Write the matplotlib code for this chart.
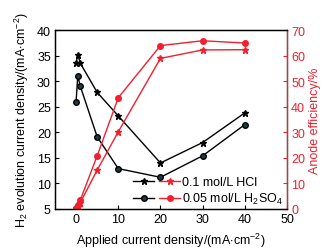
import matplotlib.pyplot as plt
from matplotlib.legend_handler import HandlerTuple
from matplotlib.lines import Line2D

plt.rcParams['font.family'] = ['Liberation Sans', 'DejaVu Sans']
plt.rcParams['mathtext.fontset'] = 'custom'
plt.rcParams['mathtext.rm'] = 'Liberation Sans'

# Applied current density (mA/cm2)
current = [0, 0.4, 1, 5, 10, 20, 30, 40]

# H2 evolution current density (left axis)
h2_hcl = [33.5, 35.2, 33.5, 27.8, 23.2, 14.0, 18.0, 23.8]
h2_h2so4 = [26.0, 31.1, 29.0, 19.1, 12.9, 11.2, 15.4, 21.5]

# Anode efficiency % (right axis)
eff_hcl = [0.3, 1.0, 2.5, 15.2, 30.2, 58.9, 62.2, 62.3]
eff_h2so4 = [0.5, 1.5, 3.5, 20.8, 43.5, 63.9, 65.8, 64.9]

red = '#f0202e'
fs = 9

fig = plt.figure(figsize=(3.34, 2.53), dpi=100)
ax = fig.add_axes([55 / 334, 43 / 253, 232 / 334, 179 / 253])
ax2 = ax.twinx()

ax.plot(current, h2_hcl, color='black', marker='*', ms=5, lw=1)
ax.plot(current, h2_h2so4, color='black', marker='o', ms=4, lw=1,
        markerfacecolor='#1d3a40')
ax2.plot(current, eff_hcl, color=red, marker='*', ms=5, lw=1)
ax2.plot(current, eff_h2so4, color=red, marker='o', ms=4, lw=1)

ax.set_xlim(-5, 50)
ax.set_ylim(5, 40)
ax2.set_ylim(0, 70)
ax.set_xticks([0, 10, 20, 30, 40, 50])
ax.set_yticks(range(5, 41, 5))
ax2.set_yticks(range(0, 71, 10))

ax.tick_params(direction='in', labelsize=fs, length=3, pad=3)
ax2.tick_params(direction='in', labelsize=fs, length=3, pad=3,
                colors=red)
ax2.spines['right'].set_color(red)
for s in ['left', 'right', 'top', 'bottom']:
    ax.spines[s].set_linewidth(0.9)
    ax2.spines[s].set_linewidth(0.9)

ax.set_xlabel('Applied current density/(mA$\\cdot$cm$^{-2}$)', fontsize=fs,
              labelpad=4)
ax.set_ylabel('H$_2$ evolution current density/(mA$\\cdot$cm$^{-2}$)',
              fontsize=fs, labelpad=4)
ax2.set_ylabel('Anode efficiency/%', fontsize=fs, color=red, labelpad=3)

# legend: black + red handle for each electrolyte
h1 = (Line2D([], [], color='black', marker='*', ms=5, lw=1),
      Line2D([], [], color=red, marker='*', ms=5, lw=1))
h2 = (Line2D([], [], color='black', marker='o', ms=4, lw=1,
             markerfacecolor='#1d3a40'),
      Line2D([], [], color=red, marker='o', ms=4, lw=1))
leg = ax2.legend([h1, h2], ['0.1 mol/L HCl', '0.05 mol/L H$_2$SO$_4$'],
                 handler_map={tuple: HandlerTuple(ndivide=None, pad=0.4)},
                 loc='lower left', bbox_to_anchor=(0.325, 0.0), frameon=False,
                 fontsize=fs, handlelength=3.8, handletextpad=0.15,
                 labelspacing=0.25, borderpad=0.2, borderaxespad=0.0)

fig.savefig('out.png', dpi=100)
